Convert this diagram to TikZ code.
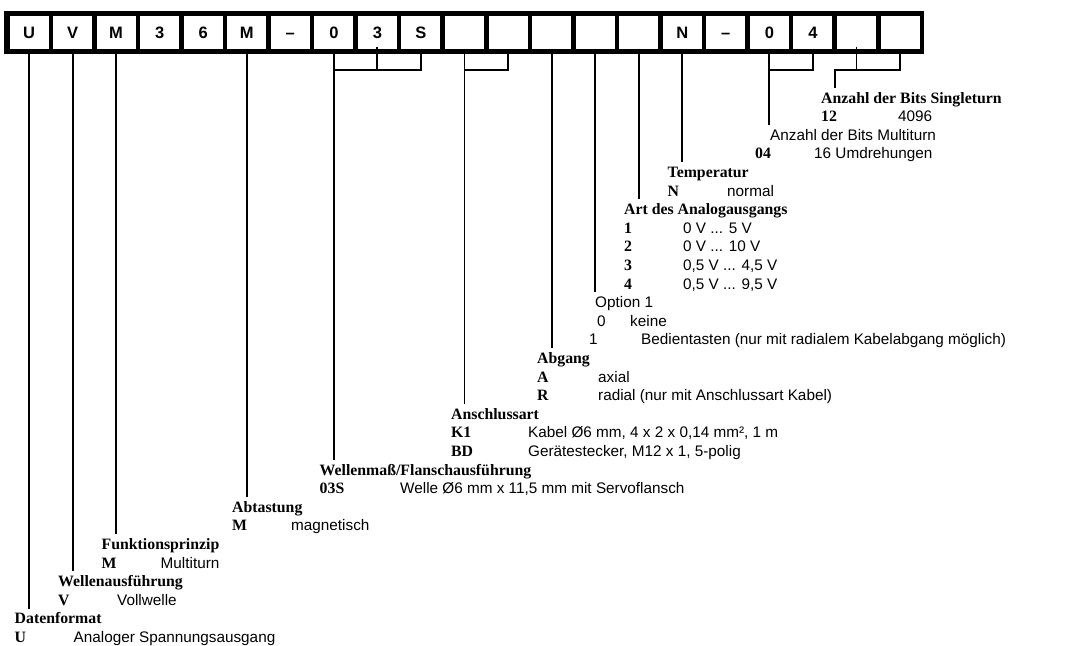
\documentclass[tikz,border=0pt]{standalone}
\usepackage{fontspec}
\setmainfont{Liberation Serif}
\setsansfont{Liberation Sans}
\begin{document}
\begin{tikzpicture}[x=1pt,y=-1pt,
  cell/.style={fill=white, minimum width=39pt, minimum height=32.5pt, inner sep=0pt, text height=12pt, text depth=0pt, font=\sffamily\bfseries\fontsize{16.5}{18}\selectfont},
  hd/.style={anchor=base west, inner sep=0pt, text height=15pt, text depth=4pt, font=\bfseries\fontsize{15.8}{18}\selectfont},
  hds/.style={anchor=base west, inner sep=0pt, text height=15pt, text depth=4pt, font=\sffamily\fontsize{15.3}{18}\selectfont},
  cd/.style={anchor=base west, inner sep=0pt, font=\bfseries\fontsize{15.8}{18}\selectfont},
  cds/.style={anchor=base west, inner sep=0pt, font=\sffamily\fontsize{15.3}{18}\selectfont},
  val/.style={anchor=base west, inner sep=0pt, font=\sffamily\fontsize{15.3}{18}\selectfont},
  ln/.style={line width=1.9pt}
]
\useasboundingbox (0,0) rectangle (1070,645);
\fill[black] (4,11) rectangle (924,54);
\foreach \t [count=\i] in {U,V,M,3,6,M,–,0,3,S,{},{},{},{},{},N,–,0,4,{},{}}
  \node[cell] (c\i) at ({29+(\i-1)*43.55},32.25) {\t};

% texts
\node[hd]  (h0)  at (821,103)   {Anzahl der Bits Singleturn};
\node[cd]  (k1)  at (821,121.6) {12};
\node[val] (v1)  at (898,121.6) {4096};
\node[hds] (h2)  at (770,140.2) {Anzahl der Bits Multiturn};
\node[cd]  (k3)  at (755,158.8) {04};
\node[val] (v3)  at (814,158.8) {16 Umdrehungen};
\node[hd]  (h4)  at (667.5,177.4) {Temperatur};
\node[cd]  (k5)  at (667.5,196) {N};
\node[val] (v5)  at (727,196)   {normal};
\node[hd]  (h6)  at (624,214.6) {Art des Analogausgangs};
\node[cd]  (k7)  at (624,233.2) {1};
\node[val] (v7)  at (683,233.2) {0 V ... 5 V};
\node[cd]  (k8)  at (624,251.8) {2};
\node[val] (v8)  at (683,251.8) {0 V ... 10 V};
\node[cd]  (k9)  at (624,270.4) {3};
\node[val] (v9)  at (683,270.4) {0,5 V ... 4,5 V};
\node[cd]  (k10) at (624,289)   {4};
\node[val] (v10) at (683,289)   {0,5 V ... 9,5 V};
\node[hds] (h11) at (595,307.6) {Option 1};
\node[cds] (k12) at (597,326.2) {0};
\node[val] (v12) at (630,326.2) {keine};
\node[cds] (k13) at (589,344.8) {1};
\node[val] (v13) at (641,344.8) {Bedientasten (nur mit radialem Kabelabgang möglich)};
\node[hd]  (h14) at (537,363.4) {Abgang};
\node[cd]  (k15) at (537,382)   {A};
\node[val] (v15) at (598,382)   {axial};
\node[cd]  (k16) at (537,400.6) {R};
\node[val] (v16) at (598,400.6) {radial (nur mit Anschlussart Kabel)};
\node[hd]  (h17) at (451,419.2) {Anschlussart};
\node[cd]  (k18) at (451,437.8) {K1};
\node[val] (v18) at (528,437.8) {Kabel Ø6 mm, 4 x 2 x 0,14 mm², 1 m};
\node[cd]  (k19) at (451,456.4) {BD};
\node[val] (v19) at (528,456.4) {Gerätestecker, M12 x 1, 5-polig};
\node[hd]  (h20) at (319.5,475) {Wellenmaß/Flanschausführung};
\node[cd]  (k21) at (319.5,493.6) {03S};
\node[val] (v21) at (400,493.6) {Welle Ø6 mm x 11,5 mm mit Servoflansch};
\node[hd]  (h22) at (232,512.2) {Abtastung};
\node[cd]  (k23) at (232,530.8) {M};
\node[val] (v23) at (291,530.8) {magnetisch};
\node[hd]  (h24) at (101.5,549.4) {Funktionsprinzip};
\node[cd]  (k25) at (101.5,568) {M};
\node[val] (v25) at (160.5,568) {Multiturn};
\node[hd]  (h26) at (58,586.6) {Wellenausführung};
\node[cd]  (k27) at (58,605.2) {V};
\node[val] (v27) at (117,605.2) {Vollwelle};
\node[hd]  (h28) at (14.5,623.8) {Datenformat};
\node[cd]  (k29) at (14.5,642.4) {U};
\node[val] (v29) at (73.5,642.4) {Analoger Spannungsausgang};

% connectors
\coordinate (brk) at (0,70);
\coordinate (sst) at (835,70);
\draw[ln] (c1.south) -- (c1.south |- h28.north);
\draw[ln] (c2.south) -- (c2.south |- h26.north);
\draw[ln] (c3.south) -- (c3.south |- h24.north);
\draw[ln] (c6.south) -- (c6.south |- h22.north);
\draw[ln] (c8.south) -- (c8.south |- h20.north);
\draw[ln] ([yshift=2pt]c9.south) -- (c9.south |- brk);
\draw[ln] (c10.south) -- (c10.south |- brk) -- (c8.south |- brk);
\draw[ln] (c11.south) -- (c11.south |- h17.north);
\draw[ln] (c12.south) -- (c12.south |- brk) -- (c11.south |- brk);
\draw[ln] (c13.south) -- (c13.south |- h14.north);
\draw[ln] (c14.south) -- (c14.south |- h11.north);
\draw[ln] (c15.south) -- (c15.south |- h6.north);
\draw[ln] (c16.south) -- (c16.south |- h4.north);
\draw[ln] (c18.south) -- (c18.south |- h2.north);
\draw[ln] (c19.south) -- (c19.south |- brk) -- (c18.south |- brk);
\draw[ln] ([yshift=2pt]c20.south) -- (c20.south |- brk);
\draw[ln] (c21.south) -- (c21.south |- brk) -- (sst) -- (sst |- h0.north);
\end{tikzpicture}
\end{document}
